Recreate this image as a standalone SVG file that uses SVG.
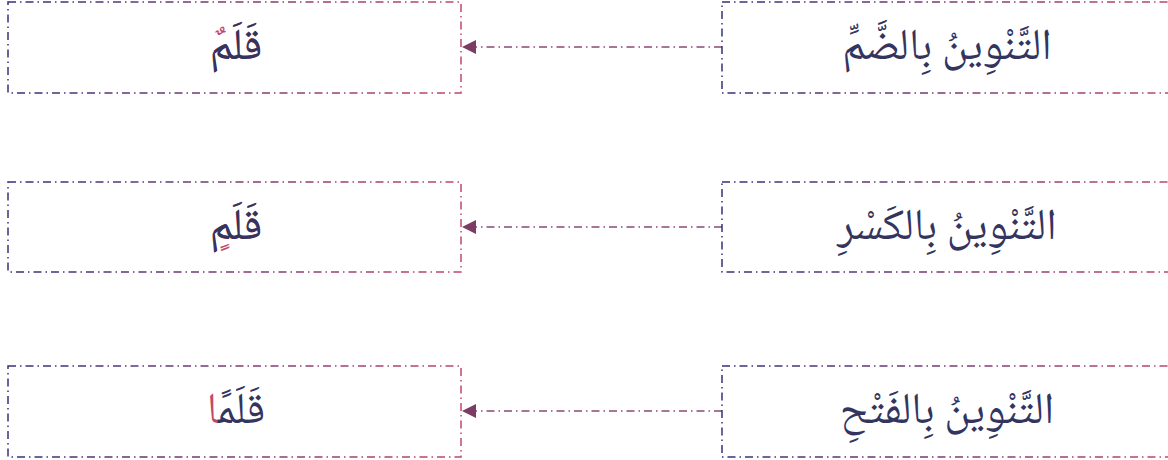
<svg xmlns="http://www.w3.org/2000/svg" width="1168" height="460" viewBox="0 0 1168 460">
<style>
.box{fill:none;stroke:url(#bg);stroke-width:1.5;stroke-dasharray:8 4 1.5 4}
.conn{fill:none;stroke:#8a4a76;stroke-width:1.4;stroke-dasharray:8 4 1.5 4}
.t{font-family:"Noto Naskh Arabic","Noto Sans Arabic","DejaVu Sans",sans-serif;fill:#33355f;text-anchor:middle;font-size:44px}
.hl{fill:#c04a6c}
.ah{fill:#7d3c63}
</style>
<defs>
<linearGradient id="bg" gradientUnits="objectBoundingBox" x1="0" y1="0" x2="1" y2="0">
<stop offset="0" stop-color="#35307a"/>
<stop offset="1" stop-color="#c2466f"/>
</linearGradient>
</defs>
<g id="connectors">
<line class="conn" x1="722" y1="47" x2="476" y2="47"/>
<line class="conn" x1="722" y1="227" x2="476" y2="227"/>
<line class="conn" x1="722" y1="411" x2="476" y2="411"/>
<path class="ah" d="M476,40 L462,47 L476,54 z"/>
<path class="ah" d="M476,220 L462,227 L476,234 z"/>
<path class="ah" d="M476,404 L462,411 L476,418 z"/>
</g>
<g id="n1">
<rect class="box" x="8" y="2" width="453" height="91"/>
<text class="t hl" x="236" y="59" direction="rtl">قَلَمٌ</text>
<text class="t" x="236" y="59" direction="rtl">قَلَم</text>
</g>
<g id="n2">
<rect class="box" x="722" y="2" width="460" height="91"/>
<text class="t" x="947" y="59" direction="rtl">التَّنْوِينُ بِالضَّمِّ</text>
</g>
<g id="n3">
<rect class="box" x="8" y="182" width="453" height="90"/>
<text class="t hl" x="236" y="239" direction="rtl">قَلَمٍ</text>
<text class="t" x="236" y="239" direction="rtl">قَلَم</text>
</g>
<g id="n4">
<rect class="box" x="722" y="182" width="460" height="90"/>
<text class="t" x="947" y="239" direction="rtl">التَّنْوِينُ بِالكَسْرِ</text>
</g>
<g id="n5">
<rect class="box" x="8" y="366" width="453" height="91"/>
<text class="t" x="236" y="423" direction="rtl">قَلَم<tspan class="hl">ًا</tspan></text>
</g>
<g id="n6">
<rect class="box" x="722" y="366" width="460" height="91"/>
<text class="t" x="947" y="423" direction="rtl">التَّنْوِينُ بِالفَتْحِ</text>
</g>
</svg>
